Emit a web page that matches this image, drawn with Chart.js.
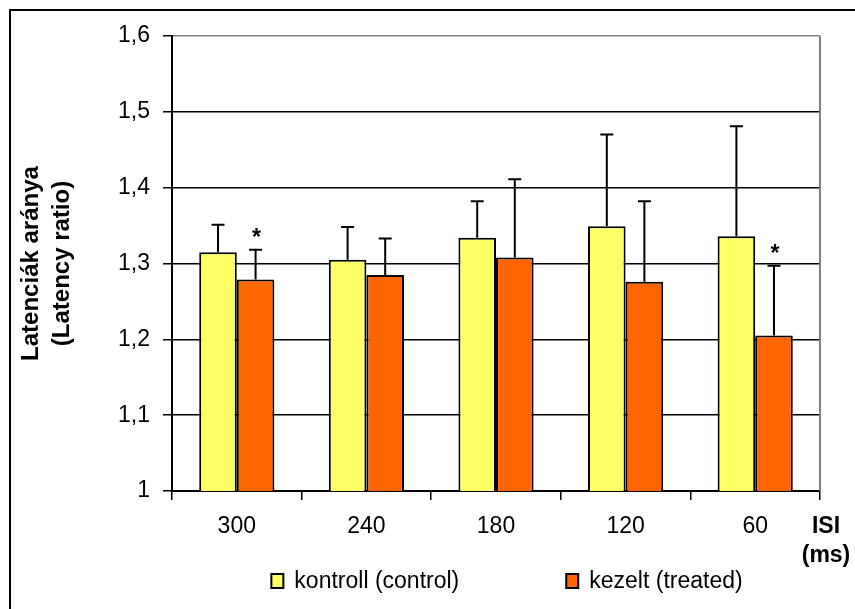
<!DOCTYPE html>
<html>
<head>
<meta charset="utf-8">
<script src="https://cdn.jsdelivr.net/npm/chart.js@4"></script>
<style>
  body { margin: 0; background: #fff; }
  canvas { display: block; }
</style>
</head>
<body>
<canvas id="myChart" width="855" height="609"></canvas>
<script>
// data
const categories = ['300', '240', '180', '120', '60'];
const controlLabel = 'kontroll (control)';
const treatedLabel = 'kezelt (treated)';
const controlMeans = [1.315, 1.305, 1.334, 1.349, 1.336];
const controlErr = [0.036, 0.043, 0.048, 0.121, 0.145];
const treatedMeans = [1.279, 1.285, 1.308, 1.276, 1.205];
const treatedErr = [0.039, 0.048, 0.103, 0.106, 0.092];
const treatedSig = [true, false, false, false, true];
const yTitle = ['Latenciák aránya', '(Latency ratio)'];
const xTitle = ['ISI', '(ms)'];
const yMin = 1, yMax = 1.6, yStep = 0.1;

const FONT = '"Liberation Sans", Arial, sans-serif';
const FS = 23;

// border, error bars, stars, legend, ISI label
const extras = {
    id: 'extras',
    beforeDraw(chart) {
        const c = chart.ctx;
        c.save();
        c.strokeStyle = '#000';
        c.lineWidth = 2;
        c.strokeRect(10, 10, 900, 700);
        c.restore();
    },
    afterDatasetsDraw(chart) {
        const c = chart.ctx;
        const y = chart.scales.y;
        const area = chart.chartArea;
        const errs = [controlErr, treatedErr];
        c.save();
        // plot area right border (grey)
        c.strokeStyle = '#808080';
        c.lineWidth = 2;
        c.beginPath();
        c.moveTo(area.right, area.top);
        c.lineTo(area.right, area.bottom);
        c.stroke();

        c.strokeStyle = '#000';
        c.lineWidth = 2;
        chart.data.datasets.forEach((ds, d) => {
            chart.getDatasetMeta(d).data.forEach((bar, i) => {
                const yTop = y.getPixelForValue(ds.data[i] + errs[d][i]);
                c.beginPath();
                c.moveTo(bar.x, bar.y);
                c.lineTo(bar.x, yTop);
                c.moveTo(bar.x - 6.5, yTop);
                c.lineTo(bar.x + 6.5, yTop);
                c.stroke();
                if (d === 1 && treatedSig[i]) {
                    c.fillStyle = '#000';
                    c.font = 'bold 23px ' + FONT;
                    c.textAlign = 'center';
                    c.textBaseline = 'alphabetic';
                    c.fillText('*', bar.x + 1, yTop - 5);
                }
            });
        });

        // ISI (ms) at the right end of x axis
        c.fillStyle = '#000';
        c.font = 'bold ' + FS + 'px ' + FONT;
        c.textAlign = 'center';
        c.textBaseline = 'middle';
        c.fillText(xTitle[0], 826, 527);
        c.fillText(xTitle[1], 826, 556);

        // legend
        c.font = FS + 'px ' + FONT;
        const box = 12, gap = 11, between = 107;
        const w = chart.data.datasets.map(ds => box + gap + c.measureText(ds.label).width);
        let x = 507 - (w[0] + between + w[1]) / 2;
        const ly = 581;
        chart.data.datasets.forEach((ds, d) => {
            c.fillStyle = ds.backgroundColor;
            c.fillRect(x, ly - 7, box, 14);
            c.strokeStyle = '#000';
            c.lineWidth = 2;
            c.strokeRect(x, ly - 7, box, 14);
            c.fillStyle = '#000';
            c.textAlign = 'left';
            c.fillText(ds.label, x + box + gap, ly + 1);
            x += w[d] + between;
        });
        c.restore();
    }
};

new Chart(document.getElementById('myChart'), {
    type: 'bar',
    data: {
        labels: categories,
        datasets: [{
            label: controlLabel,
            data: controlMeans,
            backgroundColor: '#FFFF66',
            borderColor: '#000',
            borderWidth: 2,
            borderSkipped: false
        }, {
            label: treatedLabel,
            data: treatedMeans,
            backgroundColor: '#FF6600',
            borderColor: '#000',
            borderWidth: 2,
            borderSkipped: false
        }]
    },
    options: {
        responsive: false,
        animation: false,
        devicePixelRatio: 1,
        categoryPercentage: 0.58,
        barPercentage: 1.0,
        layout: { padding: { left: 0, right: 35, top: 36, bottom: 58 } },
        plugins: {
            legend: { display: false },
            tooltip: { enabled: false }
        },
        scales: {
            x: {
                afterFit(scale) { scale.height = 60; },
                grid: {
                    display: true,
                    drawOnChartArea: false,
                    offset: true,
                    tickLength: 9,
                    color: '#000',
                    lineWidth: 1.5
                },
                border: { color: '#000', width: 2 },
                ticks: {
                    color: '#000',
                    padding: 13,
                    font: { family: FONT, size: FS }
                }
            },
            y: {
                min: yMin,
                max: yMax,
                afterFit(scale) { scale.width = 172; },
                grid: {
                    color: ctx => Math.abs(ctx.tick.value - yMax) < 1e-6 ? '#808080' : '#000',
                    tickColor: '#000',
                    lineWidth: 1.5,
                    tickLength: 9
                },
                border: { color: '#000', width: 2 },
                ticks: {
                    stepSize: yStep,
                    color: '#000',
                    padding: 13,
                    font: { family: FONT, size: FS },
                    callback: v => String(Math.round(v * 10) / 10).replace('.', ',')
                },
                title: {
                    display: true,
                    text: yTitle,
                    color: '#000',
                    padding: { top: 16, bottom: 0 },
                    font: { family: FONT, size: 24, weight: 'bold', lineHeight: 1.3 }
                }
            }
        }
    },
    plugins: [extras]
});
</script>
</body>
</html>
